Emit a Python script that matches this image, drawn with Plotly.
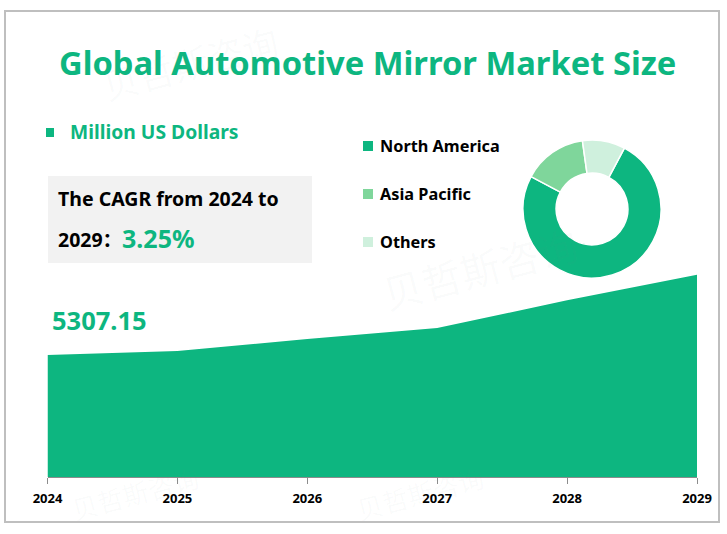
import plotly.graph_objects as go

years = [2024, 2025, 2026, 2027, 2028, 2029]
market_size = [5307.15, 5480, 6000, 6480, 7680, 8790]

regions = ["North America", "Asia Pacific", "Others"]
region_share = [75, 15, 10]
region_colors = ["#0DB680", "#7FD69B", "#CFF0DD"]

GREEN = "#0DB680"
FONT = "Noto Sans, Noto Sans CJK SC"
W, H = 727, 534


# margins are zero, so paper coords are just page pixels
def px(x):
    return x / W


def py(y):
    return 1 - y / H


def text(x, y, s, size, color="black", anchor="left"):
    return dict(x=px(x), y=py(y), xref="paper", yref="paper", text="<b>" + s + "</b>",
                showarrow=False, xanchor=anchor, yanchor="middle", borderpad=0, borderwidth=0,
                font=dict(family=FONT, size=size, color=color))


def box(x0, y0, x1, y1, fill, line=None, layer="below"):
    return dict(type="rect", xref="paper", yref="paper", x0=px(x0), x1=px(x1), y0=py(y0), y1=py(y1),
                fillcolor=fill, line=dict(color=line or fill, width=2 if line else 0), layer=layer)


fig = go.Figure()

fig.add_scatter(x=years, y=market_size, mode="lines", fill="tozeroy",
                fillcolor=GREEN, line=dict(color=GREEN, width=0), hoverinfo="skip")

fig.add_pie(labels=regions, values=region_share, hole=0.52, sort=False, direction="clockwise",
            rotation=28, textinfo="none", showlegend=False,
            marker=dict(colors=region_colors, line=dict(color="white", width=1.5)),
            domain=dict(x=[px(523), px(661)], y=[py(278), py(140)]))

shapes = [
    box(5, 11, 719, 522, "rgba(0,0,0,0)", "#BFBFBF"),
    box(48, 176, 312, 263, "#F2F2F2"),
    box(46, 128, 54, 137, GREEN),
]
annotations = [
    text(367, 63, "Global Automotive Mirror Market Size", 32.7, GREEN, "center"),
    text(70, 132, "Million US Dollars", 19.3, GREEN),
    text(58, 198, "The CAGR from 2024 to", 19.5),
    text(58, 239, "2029：", 19.5),
    text(122, 238, "3.25%", 25, GREEN),
    text(52, 320, "5307.15", 25.5, GREEN),
]

for i, name in enumerate(regions):
    y = 146 + i * 48
    shapes.append(box(363, y - 5, 373, y + 5, region_colors[i]))
    annotations.append(text(380, y, name, 16.3))

# faint watermark
for wx, wy, ws in [(190, 62, 36), (480, 268, 40), (135, 492, 26), (420, 492, 26)]:
    annotations.append(dict(x=px(wx), y=py(wy), xref="paper", yref="paper", text="贝哲斯咨询",
                            showarrow=False, textangle=-15, xanchor="center", yanchor="middle",
                            font=dict(family="Noto Sans CJK SC", size=ws, color="rgba(120,140,130,0.035)")))

fig.update_layout(
    width=W, height=H, margin=dict(l=0, r=0, t=0, b=0, autoexpand=False),
    paper_bgcolor="white", plot_bgcolor="rgba(0,0,0,0)", showlegend=False,
    shapes=shapes, annotations=annotations,
    xaxis=dict(domain=[px(47.5), px(697)], range=[2024, 2029], tickmode="array", tickvals=years,
               ticktext=["<b>%d</b>" % y for y in years], showgrid=False, zeroline=False,
               showline=True, linecolor="#8C8C8C", linewidth=1, ticks="outside", ticklen=6,
               tickcolor="#8C8C8C", ticklabelstandoff=3,
               tickfont=dict(family=FONT, size=13, color="black")),
    yaxis=dict(domain=[py(477), py(270)], range=[0, 9000], visible=False),
)

fig.write_html("out.html", config=dict(displayModeBar=False),
               post_script="document.body.style.margin='0';")
